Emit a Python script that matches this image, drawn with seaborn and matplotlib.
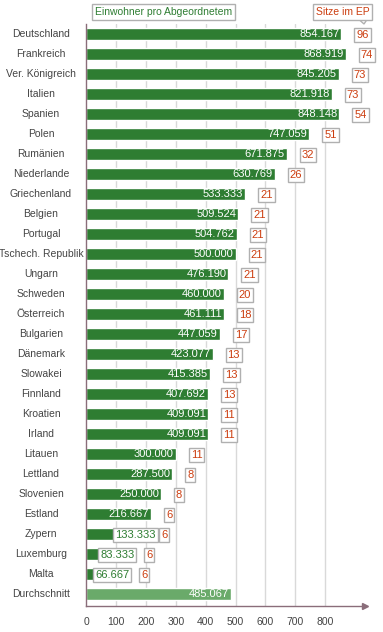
import numpy as np
import pandas as pd
import seaborn as sns
import matplotlib.pyplot as plt
import matplotlib.transforms as mtransforms

countries = ["Deutschland", "Frankreich", "Ver. Königreich", "Italien", "Spanien",
             "Polen", "Rumänien", "Niederlande", "Griechenland", "Belgien",
             "Portugal", "Tschech. Republik", "Ungarn", "Schweden", "Österreich",
             "Bulgarien", "Dänemark", "Slowakei", "Finnland", "Kroatien",
             "Irland", "Litauen", "Lettland", "Slovenien", "Estland",
             "Zypern", "Luxemburg", "Malta", "Durchschnitt"]
einwohner = [854.167, 868.919, 845.205, 821.918, 848.148,
             747.059, 671.875, 630.769, 533.333, 509.524,
             504.762, 500.000, 476.190, 460.000, 461.111,
             447.059, 423.077, 415.385, 407.692, 409.091,
             409.091, 300.000, 287.500, 250.000, 216.667,
             133.333, 83.333, 66.667, 485.067]
sitze = [96, 74, 73, 73, 54, 51, 32, 26, 21, 21, 21, 21, 21, 20, 18,
         17, 13, 13, 13, 11, 11, 11, 8, 8, 6, 6, 6, 6, None]
xticks = [0, 100, 200, 300, 400, 500, 600, 700, 800]

green = "#2e7d32"
green_avg = "#6aaa6a"
red = "#cc3d0f"
axis_col = "#8a6d7a"
text_col = "#444444"
box = dict(boxstyle="square,pad=0.18", fc="white", ec="#b0b0b0", lw=1)

df = pd.DataFrame({"land": countries, "wert": einwohner})
palette = {c: (green_avg if c == "Durchschnitt" else green) for c in countries}

sns.set_style("white")
plt.rcParams["font.family"] = ["Liberation Sans", "DejaVu Sans"]

W, H = 383, 632
fig = plt.figure(figsize=(W / 100, H / 100), dpi=100)
x0, x1, ytop, ybot = 86.3, 365, 24, 606
ax = fig.add_axes([x0 / W, (H - ybot) / H, (x1 - x0) / W, (ybot - ytop) / H])

sns.barplot(data=df, y="land", x="wert", hue="land", palette=palette,
            orient="h", width=0.57, legend=False, ax=ax, saturation=1)

ax.set_xlim(0, (x1 - x0) / 0.2984)
ax.set_ylim(len(countries) - 0.4, -0.5)
ax.set_xticks(xticks)
ax.set_xticklabels([str(t) for t in xticks], fontsize=7.5, color=text_col)
ax.tick_params(axis="x", direction="out", length=4, width=1, color=axis_col, pad=4)
ax.set_yticks([])
ax.set_xlabel("")
ax.set_ylabel("")
for t in xticks[1:]:
    ax.axvline(t, color="#d9d9d9", lw=1, zorder=0)
ax.set_axisbelow(True)

for s in ["top", "right"]:
    ax.spines[s].set_visible(False)
for s in ["left", "bottom"]:
    ax.spines[s].set_color(axis_col)
    ax.spines[s].set_linewidth(1)
ax.plot(1, 0, marker=">", color=axis_col, markersize=5, transform=ax.transAxes,
        clip_on=False)

# country names, centred left of the axis
lab_tr = mtransforms.blended_transform_factory(fig.transFigure, ax.transData)
for i, c in enumerate(countries):
    ax.text(41 / W, i, c, transform=lab_tr, ha="center", va="center",
            fontsize=7.5, color=text_col)

px = 0.72  # points per pixel
for i, (v, s) in enumerate(zip(einwohner, sitze)):
    label = f"{v:.3f}"
    if v * 0.2984 > 48:
        ax.annotate(label, (v, i), xytext=(-2 * px, 0), textcoords="offset points",
                    ha="right", va="center", fontsize=8, color="white")
        seat_off = 13
    else:
        ax.annotate(label, (v, i), xytext=(-11 * px, -1 * px), textcoords="offset points",
                    ha="left", va="center", fontsize=8, color=green, bbox=box)
        seat_off = 33
    if s is not None:
        ax.annotate(str(s), (v, i), xytext=((seat_off + 2) * px, -1 * px),
                    textcoords="offset points", ha="left", va="center",
                    fontsize=8, color=red, bbox=box)

fig.text(95 / W, 1 - 12 / H, "Einwohner pro Abgeordnetem", ha="left", va="center",
         fontsize=7.5, color=green,
         bbox=dict(boxstyle="square,pad=0.25", fc="white", ec="#b0b0b0", lw=1))
# little pointer under the "Sitze im EP" box
fig.patches.append(plt.Polygon([(359 / W, 1 - 19.5 / H), (367 / W, 1 - 19.5 / H),
                                (364 / W, 1 - 24 / H)], closed=True, fc="white",
                               ec="#b0b0b0", lw=1, transform=fig.transFigure,
                               figure=fig, zorder=1))
fig.text(316 / W, 1 - 12 / H, "Sitze im EP", ha="left", va="center",
         fontsize=7.5, color=red, zorder=2,
         bbox=dict(boxstyle="square,pad=0.25", fc="white", ec="#b0b0b0", lw=1))

fig.savefig("out.png", dpi=100)
